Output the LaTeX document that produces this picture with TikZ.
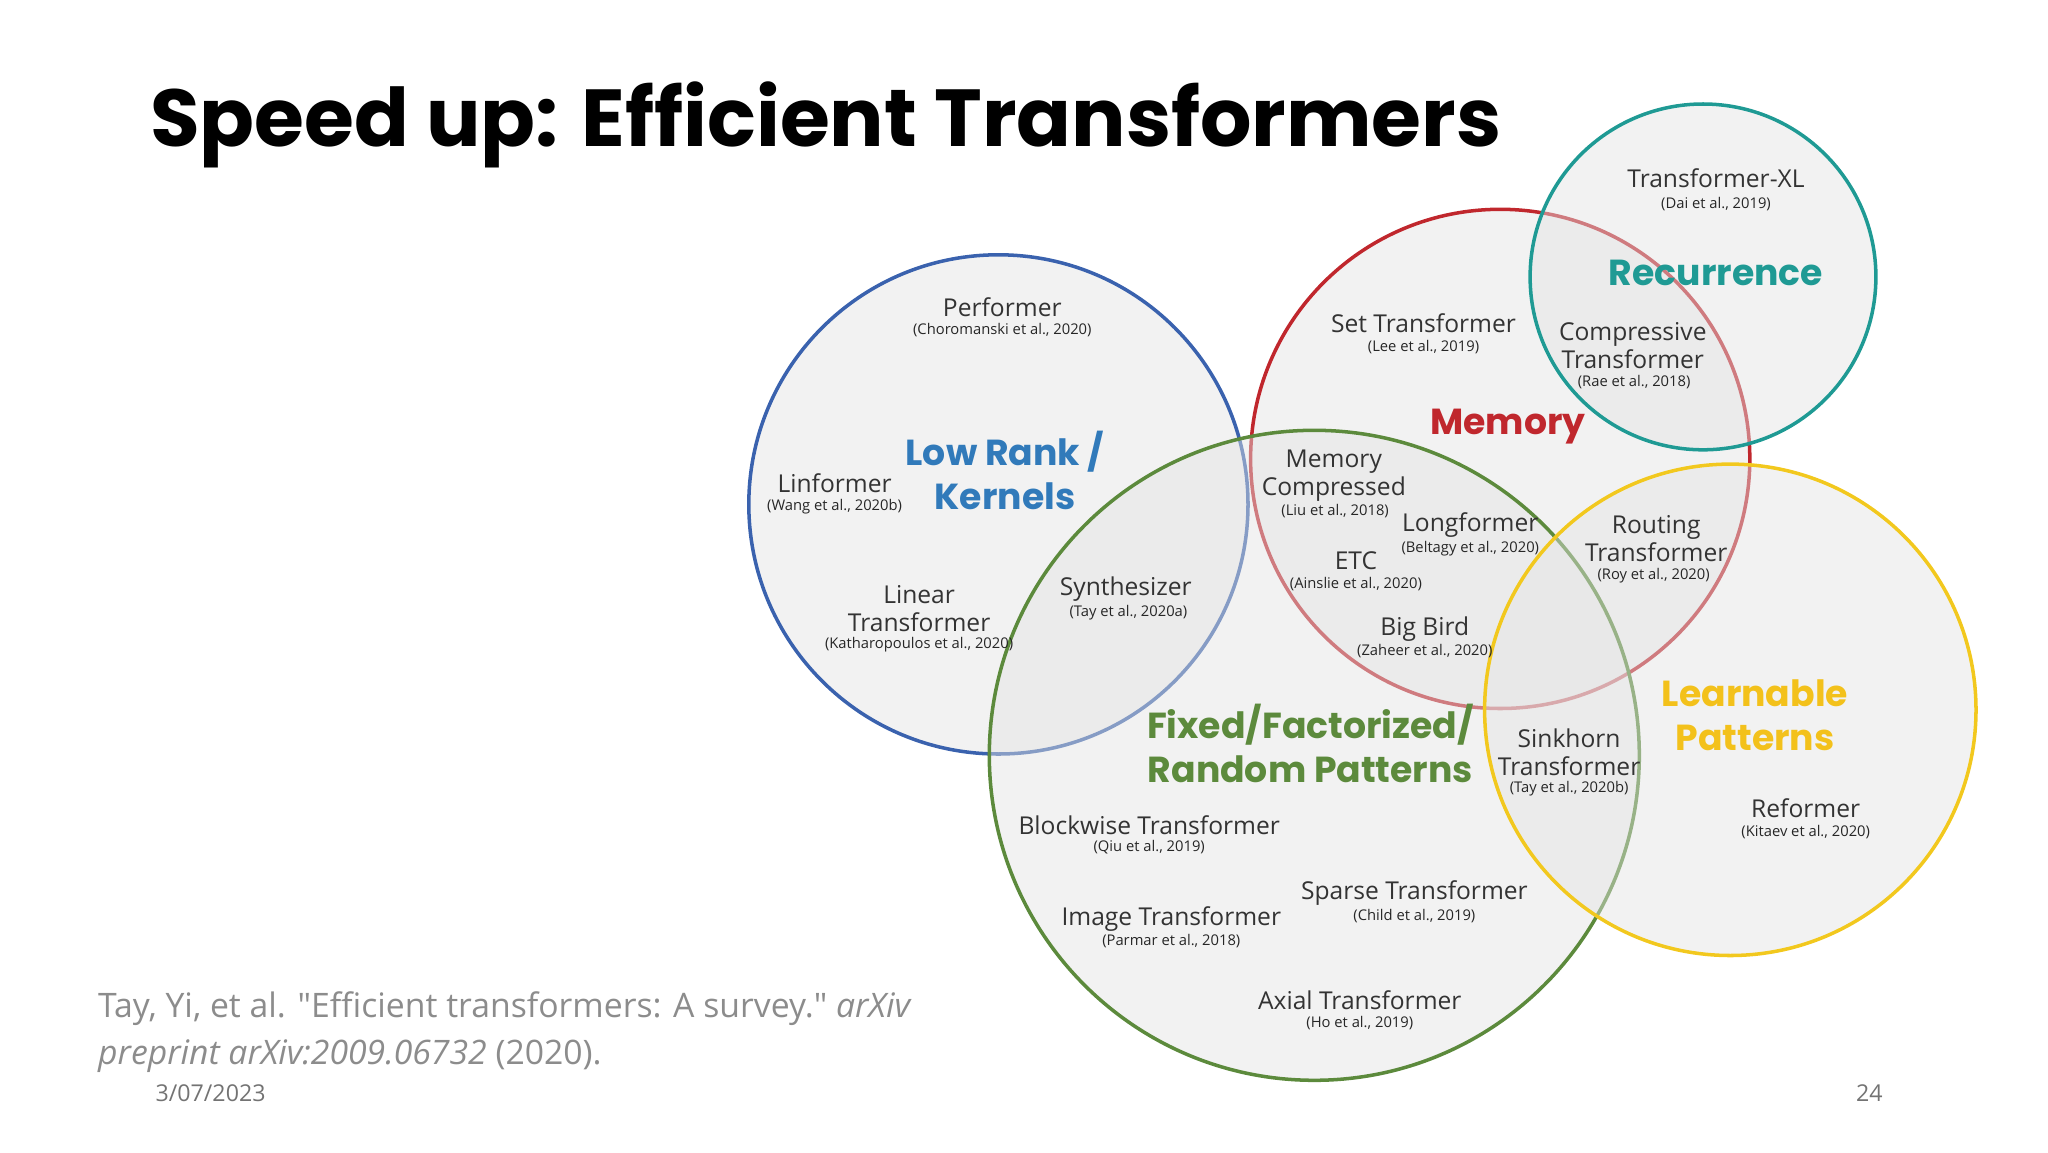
\documentclass[tikz,border=0pt]{standalone}
\usepackage{fontspec}
\setmainfont{Open Sans}
\newfontfamily\plainq{Open Sans}
\newfontfamily\titlefont{Poppins}
\begin{document}
\begin{tikzpicture}[x=0.013cm,y=-0.013cm,
  circ/.style={line width=1pt,fill=gray!22,fill opacity=0.45},
  nm/.style={font=\fontsize{7}{8}\selectfont,text=black!80,align=center,inner sep=0pt},
  ci/.style={font=\fontsize{4.2}{5}\selectfont,text=black!85,inner sep=0pt},
  cat/.style={font=\titlefont\fontsize{10.3}{12.5}\selectfont\bfseries,align=center,inner sep=0pt}]
\useasboundingbox (0,0) rectangle (1575.4,886.2);
\definecolor{cblue}{HTML}{3A62AE}\definecolor{cred}{HTML}{C0272D}
\definecolor{cteal}{HTML}{1F9A94}\definecolor{cgreen}{HTML}{5C8A3C}
\definecolor{cyel}{HTML}{F2C81E}
\node[anchor=west,font=\titlefont\fontsize{23}{26}\selectfont\bfseries] (title) at (106,96) {Speed up: Efficient Transformers};
\draw[circ,draw=cblue] (768,388) circle (192);
\draw[circ,draw=cred] (1154,353) circle (192);
\draw[circ,draw=cteal] (1310,213) circle (133);
\draw[circ,draw=cgreen] (1011,581) circle (250);
\draw[circ,draw=cyel] (1331,546) circle (189);
% categories
\node[cat,text=cblue!85!cyan] (lr) at (773,362) {Low Rank /\\Kernels};
\node[cat,text=cred] (mem) at (1160,328) {Memory};
\node[cat,text=cteal] (rec) at (1320,210) {Recurrence};
\node[cat,text=cgreen] (fix) at (1008,572) {Fixed/Factorized/\\Random Patterns};
\node[cat,text=cyel!90!orange] (lp) at (1350,550) {Learnable\\Patterns};
% models
\node[nm] (perf) at (771,236) {Performer}; \node[ci] at (771,254) {(Choromanski et al., 2020)};
\node[nm] (lin) at (642,372) {Linformer}; \node[ci] at (642,390) {(Wang et al., 2020b)};
\node[nm] (lt) at (707,468) {Linear\\Transformer}; \node[ci] at (707,496) {(Katharopoulos et al., 2020)};
\node[nm] (syn) at (866,453) {Synthesizer}; \node[ci] at (868,471) {(Tay et al., 2020a)};
\node[nm] (set) at (1095,249) {Set Transformer}; \node[ci] at (1095,267) {(Lee et al., 2019)};
\node[nm] (txl) at (1320,137) {Transformer-XL}; \node[ci] at (1320,157) {(Dai et al., 2019)};
\node[nm] (comp) at (1256,266) {Compressive\\Transformer}; \node[ci] at (1257,294) {(Rae et al., 2018)};
\node[nm] (mc) at (1026,366) {Memory\\Compressed}; \node[ci] at (1027,393) {(Liu et al., 2018)};
\node[nm] (lf) at (1131,404) {Longformer}; \node[ci] at (1131,422) {(Beltagy et al., 2020)};
\node[nm] (etc) at (1043,431) {ETC}; \node[ci] at (1043,449) {(Ainslie et al., 2020)};
\node[nm] (bb) at (1096,484) {Big Bird}; \node[ci] at (1096,501) {(Zaheer et al., 2020)};
\node[nm] (rt) at (1274,414) {Routing\\Transformer}; \node[ci] at (1272,443) {(Roy et al., 2020)};
\node[nm] (sk) at (1207,579) {Sinkhorn\\Transformer}; \node[ci] at (1207,607) {(Tay et al., 2020b)};
\node[nm] (ref) at (1389,622) {Reformer}; \node[ci] at (1389,640) {(Kitaev et al., 2020)};
\node[nm] (bw) at (884,635) {Blockwise Transformer}; \node[ci] at (884,652) {(Qiu et al., 2019)};
\node[nm] (st) at (1088,687) {Sparse Transformer}; \node[ci] at (1088,705) {(Child et al., 2019)};
\node[nm] (img) at (901,707) {Image Transformer}; \node[ci] at (901,724) {(Parmar et al., 2018)};
\node[nm] (ax) at (1046,769) {Axial Transformer}; \node[ci] at (1046,787) {(Ho et al., 2019)};
% footer
\node[anchor=north west,align=left,text=black!45,font=\fontsize{9.6}{13.5}\selectfont,inner sep=0pt] (cite) at (75,762)
 {Tay, Yi, et al. {\plainq"}Efficient transformers: A survey.{\plainq"} \textit{arXiv}\\\textit{preprint arXiv:2009.06732} (2020).};
\node[text=black!55,font=\fontsize{6.6}{8}\selectfont] (date) at (162,841) {3/07/2023};
\node[text=black!55,font=\fontsize{6.6}{8}\selectfont] (pg) at (1438,841) {24};
\end{tikzpicture}
\end{document}
